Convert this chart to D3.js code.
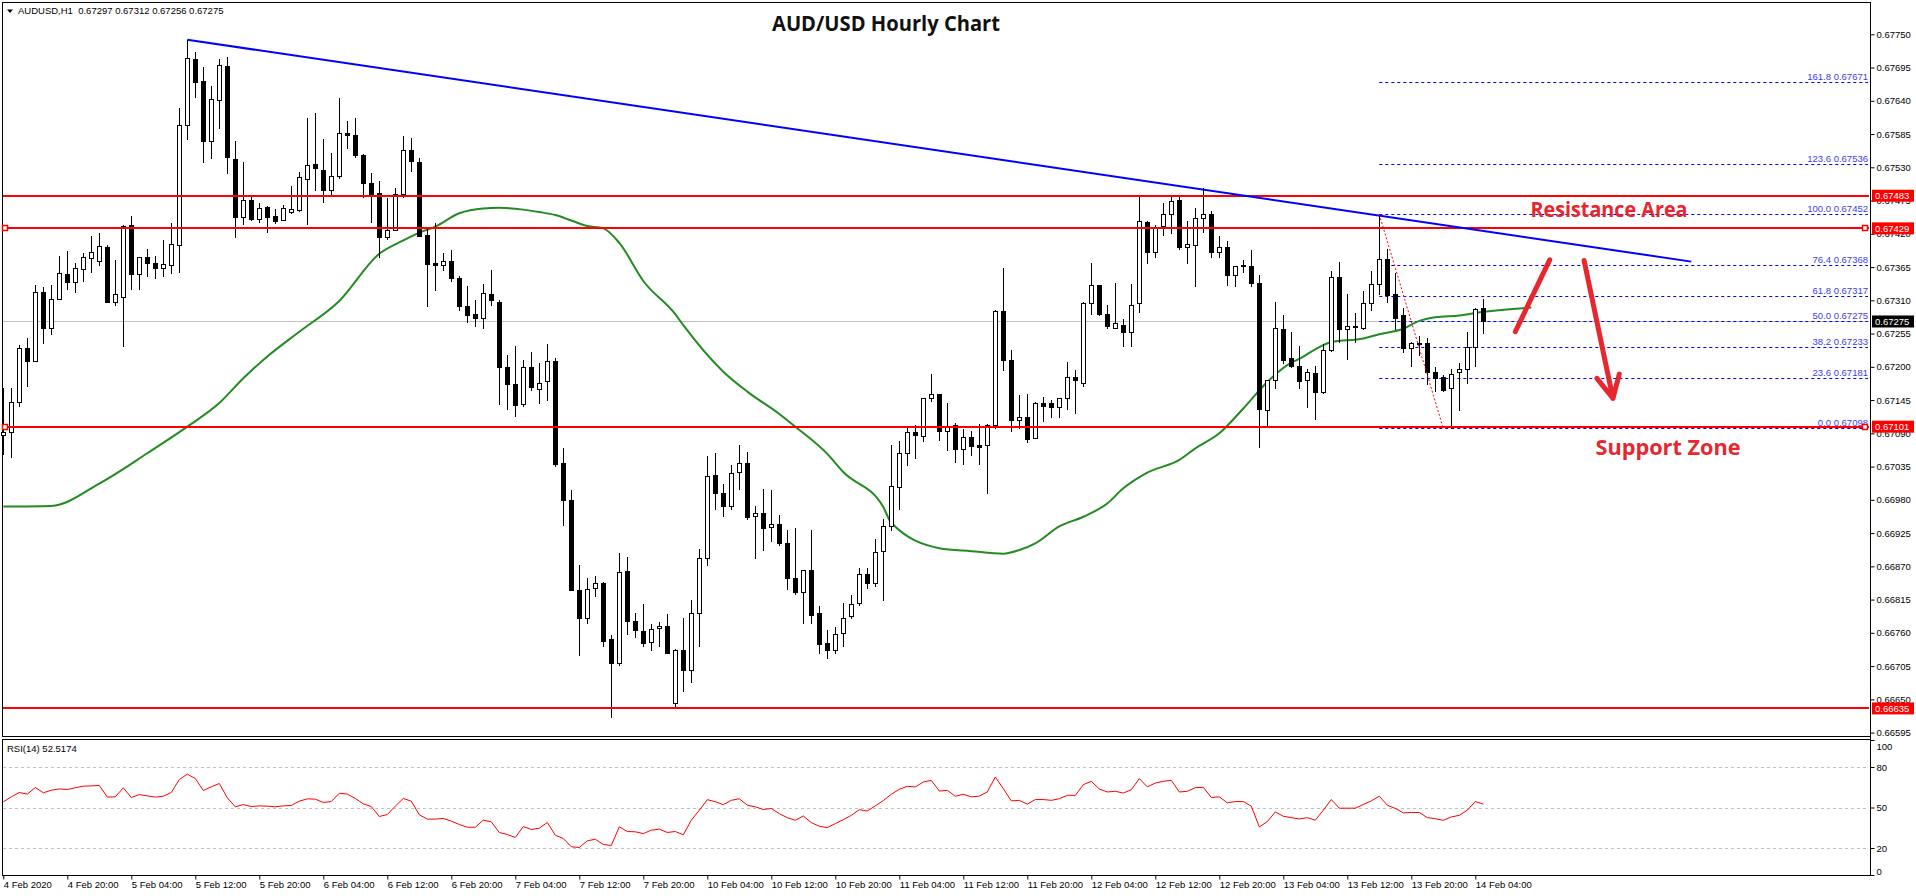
<!DOCTYPE html>
<html lang="en">
  <head>
    <meta charset="UTF-8" />
    <title>AUD/USD Hourly Chart</title>
    <style>
      body { margin: 0; background: #fff; }
      svg { display: block; }
      text { font-family: "Liberation Sans", Arial, sans-serif; }
      .ax text { font-size: 9.5px; fill: #000; }
      .ax line, .ax path { stroke: #000; }
    </style>
  </head>
  <body>
    <script src="https://d3js.org/d3.v7.min.js"></script>
    <script>

      // hourly candles, 4 Feb 12:00 .. 14 Feb 05:00
      var opens = [0.67087,0.67092,0.67142,0.67231,0.67209,0.67324,0.67265,0.67312,0.67354,0.67340,
        0.67361,0.67380,0.67375,0.67398,0.67307,0.67316,0.67435,0.67354,0.67382,0.67372,
        0.67363,0.67368,0.67402,0.67600,0.67709,0.67673,0.67573,0.67641,0.67698,0.67543,
        0.67448,0.67476,0.67445,0.67464,0.67449,0.67443,0.67456,0.67459,0.67510,0.67535,
        0.67525,0.67492,0.67515,0.67586,0.67583,0.67550,0.67504,0.67488,0.67415,0.67426,
        0.67486,0.67558,0.67538,0.67418,0.67371,0.67368,0.67375,0.67347,0.67300,0.67287,
        0.67280,0.67320,0.67308,0.67199,0.67171,0.67138,0.67199,0.67164,0.67176,0.67209,
        0.67041,0.66980,0.66831,0.66784,0.66834,0.66843,0.66750,0.66710,0.66862,0.66779,
        0.66763,0.66745,0.66768,0.66771,0.66644,0.66731,0.66698,0.66792,0.66884,0.67021,
        0.66991,0.66970,0.67026,0.67041,0.66954,0.66959,0.66935,0.66940,0.66909,0.66851,
        0.66828,0.66864,0.66792,0.66743,0.66731,0.66759,0.66788,0.66809,0.66857,0.66843,
        0.66896,0.66937,0.67001,0.67057,0.67092,0.67085,0.67148,0.67155,0.67094,0.67104,
        0.67064,0.67084,0.67070,0.67071,0.67104,0.67292,0.67211,0.67112,0.67117,0.67082,
        0.67140,0.67140,0.67133,0.67148,0.67183,0.67174,0.67305,0.67335,0.67288,0.67265,
        0.67270,0.67258,0.67305,0.67439,0.67390,0.67433,0.67453,0.67476,0.67398,0.67402,
        0.67446,0.67453,0.67390,0.67398,0.67352,0.67367,0.67367,0.67339,0.67128,0.67178,
        0.67262,0.67214,0.67202,0.67178,0.67189,0.67158,0.67227,0.67348,0.67262,0.67266,
        0.67265,0.67305,0.67337,0.67378,0.67320,0.67285,0.67231,0.67237,0.67239,0.67191,
        0.67183,0.67165,0.67191,0.67196,0.67232,0.67297];
      var highs = [0.67165,0.67165,0.67236,0.67247,0.67335,0.67332,0.67335,0.67383,0.67392,0.67372,
        0.67388,0.67416,0.67421,0.67402,0.67377,0.67435,0.67449,0.67382,0.67395,0.67383,
        0.67410,0.67438,0.67628,0.67741,0.67721,0.67696,0.67665,0.67709,0.67712,0.67573,
        0.67538,0.67483,0.67471,0.67466,0.67461,0.67468,0.67499,0.67522,0.67611,0.67620,
        0.67577,0.67553,0.67645,0.67606,0.67611,0.67552,0.67520,0.67507,0.67479,0.67495,
        0.67582,0.67578,0.67545,0.67431,0.67438,0.67388,0.67393,0.67350,0.67334,0.67310,
        0.67337,0.67360,0.67310,0.67219,0.67234,0.67212,0.67224,0.67206,0.67237,0.67214,
        0.67066,0.66996,0.66873,0.66851,0.66854,0.66844,0.66756,0.66892,0.66886,0.66792,
        0.66807,0.66774,0.66778,0.66791,0.66733,0.66784,0.66814,0.66899,0.67052,0.67057,
        0.67006,0.67038,0.67070,0.67059,0.66970,0.66998,0.66996,0.66955,0.66930,0.66934,
        0.66864,0.66930,0.66804,0.66764,0.66769,0.66809,0.66823,0.66868,0.66868,0.66916,
        0.66949,0.67070,0.67077,0.67099,0.67104,0.67148,0.67188,0.67155,0.67140,0.67107,
        0.67097,0.67094,0.67105,0.67105,0.67294,0.67363,0.67227,0.67153,0.67155,0.67142,
        0.67150,0.67145,0.67148,0.67208,0.67194,0.67307,0.67372,0.67335,0.67303,0.67338,
        0.67279,0.67337,0.67484,0.67441,0.67435,0.67471,0.67481,0.67481,0.67441,0.67463,
        0.67495,0.67458,0.67416,0.67408,0.67367,0.67377,0.67393,0.67352,0.67178,0.67308,
        0.67285,0.67257,0.67234,0.67196,0.67202,0.67237,0.67358,0.67373,0.67320,0.67289,
        0.67326,0.67358,0.67452,0.67395,0.67355,0.67297,0.67241,0.67251,0.67247,0.67200,
        0.67186,0.67196,0.67206,0.67258,0.67297,0.67312];
      var lows = [0.67056,0.67051,0.67135,0.67168,0.67209,0.67239,0.67254,0.67312,0.67329,0.67324,
        0.67342,0.67357,0.67368,0.67307,0.67302,0.67234,0.67329,0.67329,0.67350,0.67347,
        0.67350,0.67355,0.67357,0.67577,0.67646,0.67538,0.67545,0.67595,0.67520,0.67415,
        0.67436,0.67443,0.67440,0.67423,0.67438,0.67443,0.67454,0.67458,0.67436,0.67492,
        0.67473,0.67486,0.67512,0.67562,0.67547,0.67481,0.67440,0.67382,0.67411,0.67426,
        0.67481,0.67524,0.67416,0.67300,0.67327,0.67360,0.67342,0.67294,0.67274,0.67267,
        0.67264,0.67303,0.67138,0.67130,0.67118,0.67135,0.67161,0.67140,0.67145,0.67036,
        0.66939,0.66831,0.66723,0.66776,0.66821,0.66738,0.66621,0.66707,0.66758,0.66753,
        0.66738,0.66731,0.66738,0.66726,0.66637,0.66663,0.66678,0.66738,0.66872,0.66965,
        0.66954,0.66965,0.66998,0.66949,0.66884,0.66897,0.66912,0.66906,0.66833,0.66824,
        0.66776,0.66776,0.66726,0.66718,0.66726,0.66738,0.66784,0.66806,0.66834,0.66838,
        0.66814,0.66930,0.66965,0.67038,0.67049,0.67077,0.67143,0.67079,0.67062,0.67042,
        0.67039,0.67054,0.67039,0.66991,0.67099,0.67194,0.67094,0.67099,0.67076,0.67082,
        0.67110,0.67117,0.67117,0.67130,0.67123,0.67169,0.67287,0.67285,0.67265,0.67265,
        0.67234,0.67234,0.67290,0.67372,0.67382,0.67418,0.67421,0.67395,0.67372,0.67334,
        0.67423,0.67382,0.67382,0.67335,0.67334,0.67357,0.67334,0.67067,0.67104,0.67165,
        0.67206,0.67199,0.67165,0.67133,0.67114,0.67157,0.67226,0.67241,0.67213,0.67241,
        0.67262,0.67294,0.67320,0.67308,0.67262,0.67224,0.67201,0.67219,0.67171,0.67160,
        0.67160,0.67098,0.67128,0.67173,0.67201,0.67256];
      var closes = [0.67092,0.67142,0.67231,0.67209,0.67324,0.67265,0.67312,0.67355,0.67340,0.67363,
        0.67382,0.67390,0.67400,0.67308,0.67320,0.67433,0.67354,0.67382,0.67372,0.67363,
        0.67370,0.67403,0.67600,0.67711,0.67671,0.67573,0.67643,0.67699,0.67547,0.67448,
        0.67476,0.67445,0.67463,0.67448,0.67441,0.67463,0.67461,0.67514,0.67534,0.67529,
        0.67492,0.67515,0.67586,0.67583,0.67550,0.67504,0.67486,0.67415,0.67426,0.67486,
        0.67558,0.67540,0.67416,0.67370,0.67369,0.67375,0.67347,0.67300,0.67285,0.67280,
        0.67322,0.67310,0.67199,0.67171,0.67137,0.67199,0.67166,0.67174,0.67209,0.67039,
        0.66980,0.66831,0.66784,0.66833,0.66843,0.66746,0.66710,0.66861,0.66779,0.66764,
        0.66743,0.66766,0.66771,0.66726,0.66731,0.66698,0.66792,0.66884,0.67019,0.66991,
        0.66970,0.67024,0.67041,0.66952,0.66959,0.66934,0.66940,0.66909,0.66851,0.66828,
        0.66864,0.66789,0.66741,0.66731,0.66758,0.66784,0.66807,0.66857,0.66843,0.66894,
        0.66937,0.67003,0.67057,0.67092,0.67087,0.67148,0.67155,0.67094,0.67102,0.67064,
        0.67084,0.67069,0.67068,0.67104,0.67292,0.67211,0.67112,0.67117,0.67081,0.67140,
        0.67135,0.67133,0.67148,0.67183,0.67178,0.67305,0.67335,0.67288,0.67267,0.67272,
        0.67258,0.67303,0.67441,0.67390,0.67431,0.67453,0.67474,0.67398,0.67403,0.67446,
        0.67453,0.67390,0.67398,0.67352,0.67367,0.67368,0.67339,0.67130,0.67178,0.67265,
        0.67212,0.67202,0.67176,0.67191,0.67158,0.67227,0.67348,0.67262,0.67267,0.67267,
        0.67305,0.67337,0.67378,0.67319,0.67280,0.67231,0.67239,0.67239,0.67191,0.67181,
        0.67162,0.67188,0.67196,0.67232,0.67296,0.67275];

      // moving average (green), sampled by candle index
      var maIdx = [0,6,12,18,23,27,30,33,37,42,47,50,52,54,57,60,62,65,67,69,71,73,75,77,80,84,85,90,93,97,99,103,105,110,111,
        117,121,125,127,129,132,135,138,140,143,147,149,152,155,158,161,162,164,166,170,172,175,177,179,182,185,191];
      var maVal = [0.66969,0.66970,0.67007,0.67057,0.67101,0.67140,0.67181,0.67217,0.67258,0.67309,0.67387,0.67409,0.67422,
        0.67432,0.67454,0.67462,0.67463,0.67460,0.67456,0.67451,0.67442,0.67433,0.67429,0.67405,0.67342,0.67287,0.67269,
        0.67192,0.67159,0.67122,0.67101,0.67056,0.67026,0.66968,0.66942,0.66900,0.66895,0.66891,0.66897,0.66908,0.66936,
        0.66952,0.66974,0.66999,0.67025,0.67046,0.67065,0.67090,0.67131,0.67175,0.67207,0.67213,0.67229,0.67241,0.67247,
        0.67254,0.67263,0.67276,0.67282,0.67285,0.67291,0.67298];

      // RSI(14)
      var rsi = [54.2,57.9,61.1,59.9,64.8,60.9,62.8,63.8,63.3,64.6,65.8,66.0,66.3,57.7,57.9,64.6,57.4,59.6,58.6,57.7,
        58.4,61.1,70.7,74.7,71.5,62.6,65.3,67.8,57.2,50.5,52.2,50.7,51.2,51.0,50.5,51.2,51.5,54.7,56.4,56.2,
        53.7,54.4,60.6,59.9,56.7,52.7,50.7,43.3,44.8,51.0,56.7,54.7,44.6,41.4,41.4,41.9,39.9,37.4,35.4,35.4,
        40.6,39.4,31.5,30.0,27.8,35.9,33.7,34.7,38.9,29.5,27.0,20.9,20.4,25.3,26.5,22.6,21.9,35.7,32.2,32.0,
        30.7,33.2,34.0,31.5,32.2,29.8,40.6,48.0,55.8,54.3,52.1,55.3,56.5,51.7,50.5,48.5,49.3,45.4,42.5,40.5,
        43.7,38.8,36.1,35.1,38.1,41.0,44.2,48.4,47.4,51.2,55.1,59.8,63.5,65.7,65.2,68.9,70.1,62.2,62.7,58.3,
        59.8,57.9,58.4,61.5,72.6,64.0,54.9,55.3,52.5,55.9,55.9,55.3,56.5,59.0,59.0,66.9,69.4,63.7,61.5,62.0,
        60.7,63.2,71.4,65.3,68.1,69.4,70.1,61.5,62.0,64.7,65.0,57.4,57.9,53.5,54.4,54.4,51.0,35.6,39.5,46.7,
        43.5,42.5,41.5,42.5,40.6,48.0,55.9,49.5,49.5,49.5,52.2,54.9,58.4,51.7,49.3,46.0,46.3,46.3,42.5,41.7,
        40.5,43.0,44.2,48.0,54.4,52.5];

      var tickIdx = [0,8,16,24,32,40,48,56,64,72,80,88,96,104,112,120,128,136,144,152,160,168,176,184];
      var tickLabels = ["4 Feb 2020","4 Feb 20:00","5 Feb 04:00","5 Feb 12:00","5 Feb 20:00","6 Feb 04:00",
        "6 Feb 12:00","6 Feb 20:00","7 Feb 04:00","7 Feb 12:00","7 Feb 20:00","10 Feb 04:00","10 Feb 12:00",
        "10 Feb 20:00","11 Feb 04:00","11 Feb 12:00","11 Feb 20:00","12 Feb 04:00","12 Feb 12:00","12 Feb 20:00",
        "13 Feb 04:00","13 Feb 12:00","13 Feb 20:00","14 Feb 04:00"];
      var priceTicks = [0.67750,0.67695,0.67640,0.67585,0.67530,0.67475,0.67420,0.67365,0.67310,0.67255,0.67200,
        0.67145,0.67090,0.67035,0.66980,0.66925,0.66870,0.66815,0.66760,0.66705,0.66650,0.66595];
      var rsiTicks = [100,80,50,20,0];

      var redLevels = [0.67483,0.67429,0.67101,0.66635];
      var markedLevels = [0.67429,0.67101];
      var lastPrice = 0.67275;

      var fibPct = ["161.8","123.6","100.0","76.4","61.8","50.0","38.2","23.6","0.0"];
      var fibPrice = [0.67671,0.67536,0.67452,0.67368,0.67317,0.67275,0.67233,0.67181,0.67098];
      var fibFrom = [172,180], fibSwing = [0.67452,0.67098];

      var trendIdx = [23,211], trendVal = [0.67741,0.67374];

      // hand drawn arrows (candle index, price)
      var upArrow = [[189,0.67258],[193.3,0.67377]];
      var downArrow = [[197.6,0.67376],[201.2,0.67148]];
      var downHead = [[199.2,0.67181],[201.2,0.67148],[202,0.67188]];

      var W = 1916, H = 896;
      var left = 3, right = 1870;
      var mainTop = 2.5, mainBot = 736.5, rsiTop = 739.5, rsiBot = 875.5;
      var annoRed = "#e8262d";

      var svg = d3.select("body").append("svg")
        .attr("width", W).attr("height", H);

//scales
      var x = d3.scaleLinear().domain([0, 185]).range([3.3, 1483.3]);
      var y = d3.scaleLinear().domain([0.66595, 0.67750]).range([732.6, 34.3]);
      var yR = d3.scaleLinear().domain([0, 100]).range([875, 740]);

      function px(v) { return Math.round(v) + 0.5; }

//panels
      svg.append("rect").attr("x", 2.5).attr("y", mainTop)
        .attr("width", right - 2).attr("height", mainBot - mainTop)
        .attr("fill", "none").attr("stroke", "#000");
      svg.append("rect").attr("x", 2.5).attr("y", rsiTop)
        .attr("width", right - 2).attr("height", rsiBot - rsiTop)
        .attr("fill", "none").attr("stroke", "#000");

//current price line
      svg.append("line")
        .attr("x1", left).attr("x2", right - 1)
        .attr("y1", px(y(lastPrice))).attr("y2", px(y(lastPrice)))
        .attr("stroke", "#c0c0c0");

//fibo lines
      var fibX0 = x(fibFrom[0]);
      fibPrice.forEach(function(p, i) {
        svg.append("line")
          .attr("x1", fibX0).attr("x2", right - 2)
          .attr("y1", px(y(p))).attr("y2", px(y(p)))
          .attr("stroke", "#0000ff").attr("stroke-dasharray", "3,3");
        svg.append("text")
          .attr("x", right - 2).attr("y", px(y(p)) - 3)
          .attr("text-anchor", "end")
          .attr("font-size", "9.5px").attr("fill", "#3c3cf0")
          .text(fibPct[i] + " " + p.toFixed(5));
      });

//moving average
      var maLine = d3.line()
        .x(function(d, i) { return x(maIdx[i]); })
        .y(function(d) { return y(d); })
        .curve(d3.curveMonotoneX);
      svg.append("path").datum(maVal)
        .attr("d", maLine).attr("fill", "none")
        .attr("stroke", "#228b22").attr("stroke-width", 2);

//candles
      var candles = svg.append("g").selectAll("g")
        .data(d3.range(opens.length))
        .enter().append("g");
      candles.append("line")
        .attr("x1", function(i) { return px(x(i)); })
        .attr("x2", function(i) { return px(x(i)); })
        .attr("y1", function(i) { return Math.round(y(highs[i])); })
        .attr("y2", function(i) { return Math.round(y(lows[i])) + 1; })
        .attr("stroke", "#000");
      candles.append("rect")
        .attr("x", function(i) { return Math.round(x(i)) - 1.5; })
        .attr("width", 4)
        .attr("y", function(i) { return px(y(Math.max(opens[i], closes[i]))); })
        .attr("height", function(i) {
          return Math.max(1, px(y(Math.min(opens[i], closes[i]))) - px(y(Math.max(opens[i], closes[i]))));
        })
        .attr("fill", function(i) { return closes[i] > opens[i] ? "#fff" : "#000"; })
        .attr("stroke", "#000");

//red levels
      redLevels.forEach(function(p) {
        svg.append("line")
          .attr("x1", left).attr("x2", right - 1)
          .attr("y1", Math.round(y(p))).attr("y2", Math.round(y(p)))
          .attr("stroke", "#ff0000").attr("stroke-width", 2);
      });
      markedLevels.forEach(function(p) {
        [5, right - 5].forEach(function(cx) {
          svg.append("rect")
            .attr("x", cx - 2.5).attr("y", Math.round(y(p)) - 2.5)
            .attr("width", 5).attr("height", 5)
            .attr("fill", "#fff").attr("stroke", "#ff0000").attr("stroke-width", 1.5);
        });
      });

//trend line
      svg.append("line")
        .attr("x1", x(trendIdx[0])).attr("y1", y(trendVal[0]))
        .attr("x2", x(trendIdx[1])).attr("y2", y(trendVal[1]))
        .attr("stroke", "#0000ff").attr("stroke-width", 2);

//fibo swing
      svg.append("line")
        .attr("x1", x(fibFrom[0])).attr("y1", y(fibSwing[0]))
        .attr("x2", x(fibFrom[1])).attr("y2", y(fibSwing[1]))
        .attr("stroke", "#ff0000").attr("stroke-dasharray", "2,2");

//arrows
      var aLine = d3.line().x(function(d) { return x(d[0]); }).y(function(d) { return y(d[1]); });
      [upArrow, downArrow, downHead].forEach(function(a) {
        svg.append("path").attr("d", aLine(a))
          .attr("fill", "none").attr("stroke", annoRed)
          .attr("stroke-width", 5).attr("stroke-linecap", "round").attr("stroke-linejoin", "round");
      });

//annotation text
      function bigText(tx, ty, len, col, s) {
        svg.append("text")
          .attr("x", tx).attr("y", ty).attr("text-anchor", "middle")
          .attr("textLength", len).attr("lengthAdjust", "spacingAndGlyphs")
          .style("font-family", "'Open Sans', sans-serif").style("font-weight", "bold")
          .style("font-size", "21px").attr("fill", col)
          .text(s);
      }
      bigText(886, 31, 228, "#111", "AUD/USD Hourly Chart");
      bigText(1609, 217, 157, annoRed, "Resistance Area");
      bigText(1668, 455, 145, annoRed, "Support Zone");

//RSI
      [80, 50, 20].forEach(function(v) {
        svg.append("line")
          .attr("x1", left).attr("x2", right - 1)
          .attr("y1", px(yR(v))).attr("y2", px(yR(v)))
          .attr("stroke", "#c0c0c0").attr("stroke-dasharray", "3,3");
      });
      var rsiLine = d3.line()
        .x(function(d, i) { return x(i); })
        .y(function(d) { return yR(d); });
      svg.append("path").datum(rsi)
        .attr("d", rsiLine).attr("fill", "none")
        .attr("stroke", "#ff0000").attr("stroke-width", 1);

//axis
      var yAxis = d3.axisRight(y).tickValues(priceTicks)
        .tickFormat(d3.format(".5f")).tickSize(4).tickPadding(2);
      svg.append("g").attr("class", "ax")
        .attr("transform", "translate(" + (right + 0.5) + ",0)")
        .call(yAxis);
      svg.select(".ax .domain").attr("d", "M0," + mainTop + "V" + rsiBot);

      var rAxis = d3.axisRight(yR).tickValues(rsiTicks).tickSize(4).tickPadding(2);
      var rg = svg.append("g").attr("class", "ax")
        .attr("transform", "translate(" + (right + 0.5) + ",0)")
        .call(rAxis);
      rg.select(".domain").remove();
      rg.selectAll(".tick text").attr("dy", function(d) {
        return d == 100 ? "1em" : d == 0 ? "-0.1em" : "0.32em";
      });

      var xAxis = d3.axisBottom(x).tickValues(tickIdx)
        .tickFormat(function(d, i) { return tickLabels[i]; }).tickSize(4);
      var xg = svg.append("g").attr("class", "ax")
        .attr("transform", "translate(0," + rsiBot + ")")
        .call(xAxis);
      xg.select(".domain").remove();
      xg.selectAll(".tick text").attr("text-anchor", "start").attr("x", 0).attr("y", 6);

//price boxes
      function box(p, col) {
        var cy = y(p);
        svg.append("rect").attr("x", right + 2).attr("y", cy - 6)
          .attr("width", 42).attr("height", 12).attr("fill", col);
        svg.append("text").attr("x", right + 5).attr("y", cy + 3.5)
          .attr("font-size", "9.5px").attr("fill", "#fff")
          .text(p.toFixed(5));
      }
      redLevels.forEach(function(p) { box(p, "#ff0000"); });
      box(lastPrice, "#000");

//header
      svg.append("path").attr("d", "M7,9.5h6l-3,3.5z").attr("fill", "#000");
      svg.append("text").attr("x", 18).attr("y", 14).attr("font-size", "9.5px")
        .text("AUDUSD,H1  0.67297 0.67312 0.67256 0.67275")
        .style("white-space", "pre");
      svg.append("text").attr("x", 7).attr("y", 752).attr("font-size", "9.5px")
        .text("RSI(14) 52.5174");

    </script>
  </body>
</html>
